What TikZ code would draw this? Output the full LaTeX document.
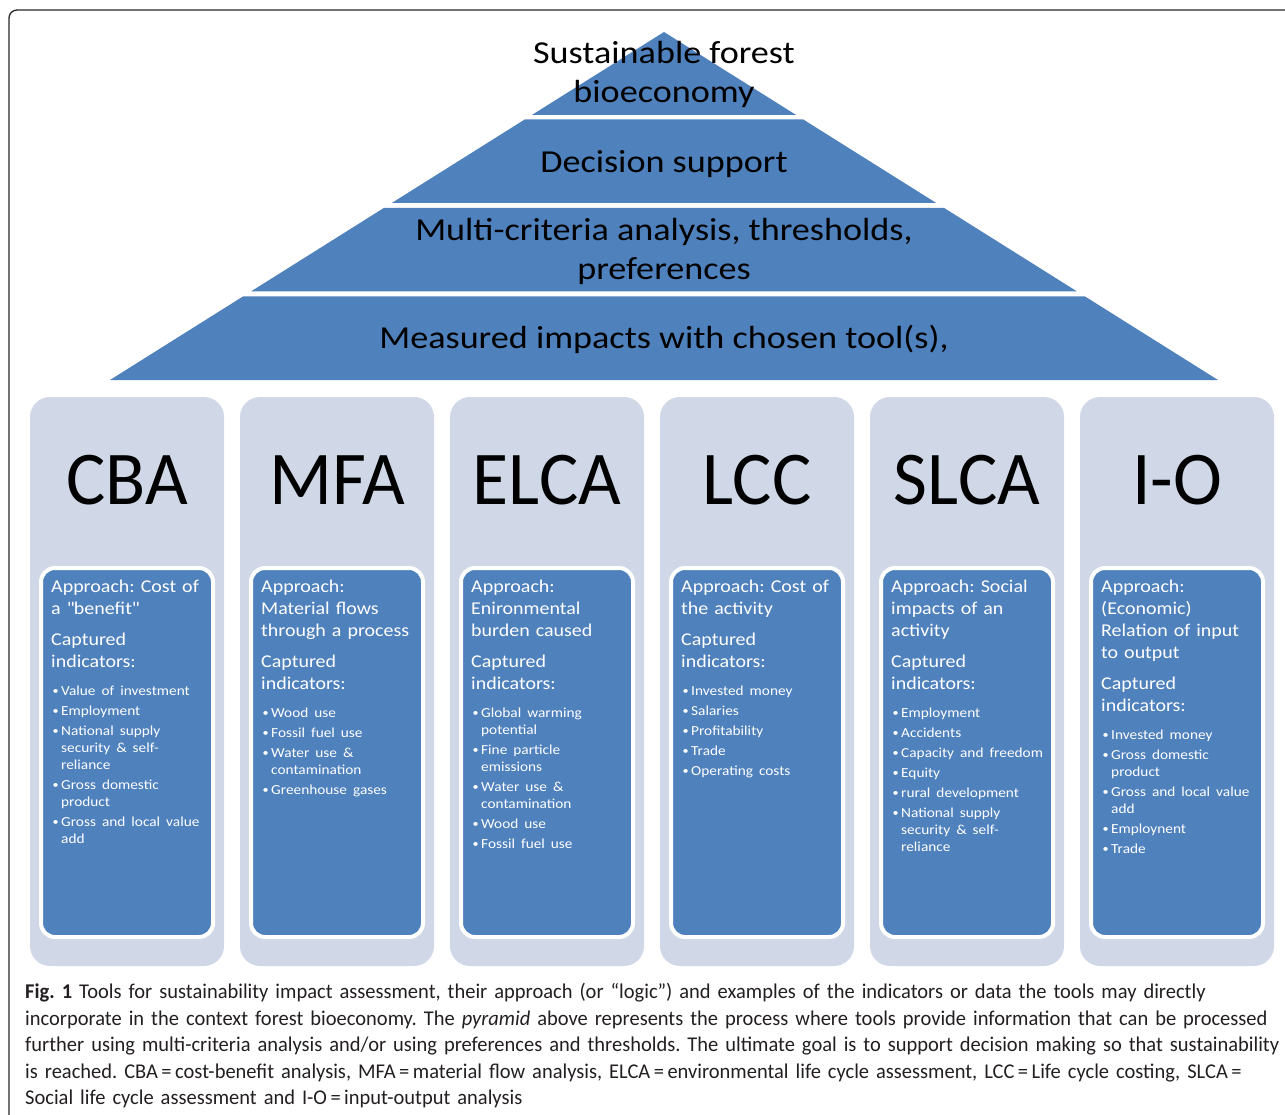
\documentclass[tikz,border=0pt]{standalone}
\usepackage{fontspec}
\setmainfont{Carlito}
\newfontfamily\pyrfont[FakeStretch=1.13]{Carlito}
\newfontfamily\namefont[FakeStretch=0.97]{Carlito}
\newfontfamily\boxfont[FakeStretch=1.11,Ligatures=TeX]{Carlito}
\newfontfamily\capfont[FakeStretch=0.975,Ligatures=TeX]{Carlito}
\usetikzlibrary{calc,positioning}
\definecolor{pyrblue}{HTML}{4F81BD}
\definecolor{colgray}{HTML}{D0D8E8}
\definecolor{captext}{HTML}{231F20}
\tikzstyle{frame} = [line width=1.3pt, rounded corners=8pt, draw=black!85]
\tikzstyle{layer} = [fill=pyrblue]
\tikzstyle{pyrtext} = [align=center, inner sep=0pt, font=\pyrfont\fontsize{32}{39}\selectfont]
\tikzstyle{toolcol} = [rectangle, rounded corners=20pt, fill=colgray, minimum width=194pt, minimum height=569pt, inner sep=0pt, outer sep=0pt]
\tikzstyle{toolname} = [inner sep=0pt, font=\namefont\fontsize{76}{80}\selectfont]
\tikzstyle{approachbox} = [rectangle, rounded corners=14pt, fill=pyrblue, draw=white, line width=4pt, minimum width=172pt, minimum height=369pt, inner sep=0pt, outer sep=0pt]
\tikzstyle{approachtext} = [anchor=north west, text width=172pt, inner sep=0pt, text=white, font=\boxfont\fontsize{18}{22}\selectfont\raggedright\frenchspacing]
\tikzstyle{captiontext} = [anchor=north west, text width=1300pt, inner sep=0pt, text=captext, font=\capfont\fontsize{21}{26.5}\selectfont\raggedright\frenchspacing]
% paragraph breaks inside the approach boxes
\newcommand{\capt}{\par\vspace{9pt}}
\newcommand{\indic}{\par\vspace{11pt}\fontsize{13.8}{17}\selectfont}
\newcommand{\bitem}[1]{\hangindent=10pt\hangafter=1\noindent\makebox[10pt][l]{\hspace{1.5pt}\raisebox{0.9pt}{\fontsize{11}{11}\selectfont\textbullet}}#1\par\vspace{3pt}}

\begin{document}
\begin{tikzpicture}[x=1pt,y=-1pt]
  \path[use as bounding box] (0,0) rectangle (1285,1115);
  \draw[frame] (9,1115) |- (1285,10);

  % pyramid
  \foreach \yt/\yb in {32/115, 119.5/203, 208/291.5, 296.5/380} {
    \pgfmathsetmacro{\wt}{(\yt-32)*1.592}
    \pgfmathsetmacro{\wb}{(\yb-32)*1.592}
    \fill[layer] ({664-\wt},\yt) -- ({664+\wt},\yt) -- ({664+\wb},\yb) -- ({664-\wb},\yb) -- cycle;
  }
  \node[pyrtext] (goal) at (664,74) {Sustainable forest\\bioeconomy};
  \node[pyrtext] (decision) at (664,164) {Decision support};
  \node[pyrtext] (mca) at (664,251) {Multi-criteria analysis, thresholds,\\preferences};
  \node[pyrtext] (impacts) at (664,339) {Measured impacts with chosen tool(s),};

  % tool columns
  \foreach \i/\tool in {0/CBA,1/MFA,2/ELCA,3/LCC,4/SLCA,5/I-O} {
    \node[toolcol] (col\i) at ({127+210*\i},681.5) {};
    \node[toolname] (name\i) at ({127+210*\i},480) {\tool};
    \node[approachbox] (box\i) at ({127+210*\i},752.5) {};
  }

  \node[approachtext] (txt0) at ($(box0.north west)+(10,12)$) {Approach: Cost of\newline a \textquotedbl benefit\textquotedbl\capt Captured\newline indicators:\indic
    \bitem{Value of investment}
    \bitem{Employment}
    \bitem{National supply\newline security \& self-\newline reliance}
    \bitem{Gross domestic\newline product}
    \bitem{Gross and local value\newline add}};
  \node[approachtext] (txt1) at ($(box1.north west)+(10,12)$) {Approach:\newline Material flows\newline through a process\capt Captured\newline indicators:\indic
    \bitem{Wood use}
    \bitem{Fossil fuel use}
    \bitem{Water use \&\newline contamination}
    \bitem{Greenhouse gases}};
  \node[approachtext] (txt2) at ($(box2.north west)+(10,12)$) {Approach:\newline Enironmental\newline burden caused\capt Captured\newline indicators:\indic
    \bitem{Global warming\newline potential}
    \bitem{Fine particle\newline emissions}
    \bitem{Water use \&\newline contamination}
    \bitem{Wood use}
    \bitem{Fossil fuel use}};
  \node[approachtext] (txt3) at ($(box3.north west)+(10,12)$) {Approach: Cost of\newline the activity\capt Captured\newline indicators:\indic
    \bitem{Invested money}
    \bitem{Salaries}
    \bitem{Profitability}
    \bitem{Trade}
    \bitem{Operating costs}};
  \node[approachtext] (txt4) at ($(box4.north west)+(10,12)$) {Approach: Social\newline impacts of an\newline activity\capt Captured\newline indicators:\indic
    \bitem{Employment}
    \bitem{Accidents}
    \bitem{Capacity and freedom}
    \bitem{Equity}
    \bitem{rural development}
    \bitem{National supply\newline security \& self-\newline reliance}};
  \node[approachtext] (txt5) at ($(box5.north west)+(10,12)$) {Approach:\newline (Economic)\newline Relation of input\newline to output\capt Captured\newline indicators:\indic
    \bitem{Invested money}
    \bitem{Gross domestic\newline product}
    \bitem{Gross and local value\newline add}
    \bitem{Employnent}
    \bitem{Trade}};

  % caption
  \node[captiontext] (caption) at (25,983) {\textbf{Fig. 1} Tools for sustainability impact assessment, their approach (or ``logic'') and examples of the indicators or data the tools may directly\newline
    incorporate in the context forest bioeconomy. The \textit{pyramid} above represents the process where tools provide information that can be processed\newline
    further using multi-criteria analysis and/or using preferences and thresholds. The ultimate goal is to support decision making so that sustainability\newline
    is reached. CBA\,=\,cost-benefit analysis, MFA\,=\,material flow analysis, ELCA\,=\,environmental life cycle assessment, LCC\,=\,Life cycle costing, SLCA\,=\newline
    Social life cycle assessment and I-O\,=\,input-output analysis\par};
\end{tikzpicture}
\end{document}
